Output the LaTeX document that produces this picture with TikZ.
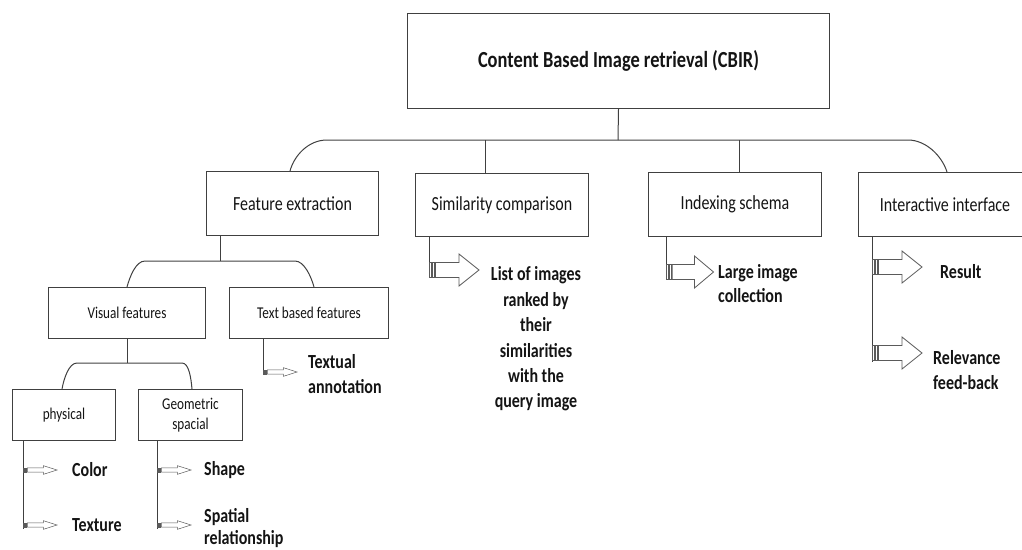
\documentclass[tikz,border=0pt]{standalone}
\usepackage{fontspec}
\setmainfont[FakeStretch=0.8]{Carlito}
\definecolor{linegray}{HTML}{404040}
\definecolor{arrowgray}{HTML}{5A5A5A}
\definecolor{inkc}{HTML}{141414}
\tikzset{
  conn/.style={draw=linegray, line width=1pt},
  boxnode/.style={draw=linegray, line width=1pt, fill=white, inner sep=0pt,
    anchor=north west, align=center, text=inkc},
  toptext/.style={font=\bfseries\fontsize{23}{28}\selectfont},
  midtext/.style={font=\fontsize{20}{24}\selectfont},
  lowtext/.style={font=\fontsize{16.5}{20}\selectfont},
  outtext/.style={font=\bfseries\fontsize{20}{24.5}\selectfont, inner sep=0pt,
    text=inkc, align=left, anchor=west},
  arrowline/.style={draw=arrowgray, fill=white, line width=0.8pt},
  % striped block arrow, origin at its tail centre
  stripearrow/.pic={
    \draw[arrowline] (0,-7.5) rectangle (2.5,7.5);
    \draw[arrowline] (3.5,-7.5) rectangle (5.5,7.5);
    \draw[arrowline] (6.5,-7.5) -- (30,-7.5) -- (30,-16) -- (50,0)
      -- (30,16) -- (30,7.5) -- (6.5,7.5) -- cycle;
  },
  smallarrow/.style={xscale=0.68, yscale=0.27,
    arrowline/.append style={line width=0.5pt}},
}
\begin{document}
\begin{tikzpicture}[x=1pt,y=-1pt]
\useasboundingbox (0,0) rectangle (1022,549);
\clip (0,0) rectangle (1022,549);

% ---- boxes ----
\node[boxnode, toptext, minimum width=422, minimum height=95] (cbir) at (407,13)
  {Content Based Image retrieval (CBIR)};
\node[boxnode, midtext, minimum width=172, minimum height=64] (fe) at (206,171)
  {Feature extraction};
\node[boxnode, midtext, minimum width=173, minimum height=63] (sim) at (415,173)
  {Similarity comparison};
\node[boxnode, midtext, minimum width=173, minimum height=64] (idx) at (648,172)
  {Indexing schema};
\node[boxnode, midtext, minimum width=173, minimum height=64] (ui) at (858,172)
  {Interactive interface};
\node[boxnode, lowtext, minimum width=157, minimum height=51] (vis) at (48,287)
  {Visual features};
\node[boxnode, lowtext, minimum width=159, minimum height=51] (txt) at (229,287)
  {Text based features};
\node[boxnode, lowtext, minimum width=103, minimum height=51] (phy) at (12,389)
  {physical};
\node[boxnode, lowtext, minimum width=104, minimum height=51] (geo) at (138,389)
  {Geometric\\spacial};

% ---- top level bus ----
\coordinate (bus) at (618,140);
\coordinate (busL) at (327,140);
\coordinate (busR) at (908,140);
\coordinate (feIn) at (290,171);
\coordinate (uiIn) at (947,172);
\coordinate (simIn) at (485,140);
\coordinate (idxIn) at (739,140);
\draw[conn] (cbir.south) -- (bus);
\draw[conn] (feIn) .. controls (294,156) and (308,140) .. (busL) -- (busR)
  .. controls (926,140) and (942,156) .. (uiIn);
\draw[conn] (simIn) -- (sim.north -| simIn);
\draw[conn] (idxIn) -- (idx.north -| idxIn);

% ---- feature extraction bus ----
\coordinate (feOut) at (220,261);
\coordinate (fbL) at (145,261);
\coordinate (fbR) at (295,261);
\coordinate (visIn) at (127,287);
\coordinate (txtIn) at (314,287);
\draw[conn] (fe.south -| feOut) -- (feOut);
\draw[conn] (visIn) .. controls (130,276) and (136,261) .. (fbL) -- (fbR)
  .. controls (304,261) and (311,276) .. (txtIn);

% ---- visual features bus ----
\coordinate (visOut) at (127,363);
\coordinate (vbL) at (77,363);
\coordinate (vbR) at (182,363);
\coordinate (phyIn) at (62,389);
\coordinate (geoIn) at (192,389);
\draw[conn] (vis.south -| visOut) -- (visOut);
\draw[conn] (phyIn) .. controls (64,378) and (69,363) .. (vbL) -- (vbR)
  .. controls (189,363) and (191,378) .. (geoIn);

% ---- arrow anchor points ----
\coordinate (aSim) at (429,270);
\coordinate (aIdx) at (666,272);
\coordinate (aUi1) at (872,267);
\coordinate (aUi2) at (872,353);
\coordinate (aUiEnd) at (872,362);
\coordinate (aTxt) at (263,372);
\coordinate (aCol) at (23,470);
\coordinate (aTex) at (23,525);
\coordinate (aTexEnd) at (23,529);
\coordinate (aSha) at (157,470);
\coordinate (aSpa) at (157,525);
\coordinate (aSpaEnd) at (157,529);

\draw[conn] (sim.south -| aSim) -- (aSim);
\draw[conn] (idx.south -| aIdx) -- (aIdx);
\draw[conn] (ui.south -| aUi1) -- (aUiEnd);
\draw[conn] (txt.south -| aTxt) -- (aTxt);
\draw[conn] (phy.south -| aCol) -- (aTexEnd);
\draw[conn] (geo.south -| aSha) -- (aSpaEnd);

\pic at (aSim) {stripearrow};
\pic[xscale=0.95] at (aIdx) {stripearrow};
\pic at (aUi1) {stripearrow};
\pic at (aUi2) {stripearrow};
\pic[smallarrow] at (aTxt) {stripearrow};
\pic[smallarrow] at (aCol) {stripearrow};
\pic[smallarrow] at (aTex) {stripearrow};
\pic[smallarrow] at (aSha) {stripearrow};
\pic[smallarrow] at (aSpa) {stripearrow};

% ---- outcome labels ----
\node[outtext, align=center, anchor=center, font=\bfseries\fontsize{20}{25.4}\selectfont]
  (simres) at (536,339)
  {List of images\\ranked by\\their\\similarities\\with the\\query image};
\node[outtext] (idxres) at (718,283.5) {Large image\\collection};
\node[outtext] (uires1) at (940,272) {Result};
\node[outtext] (uires2) at (933,370) {Relevance\\feed-back};
\node[outtext] (txtres) at (308,374) {Textual\\annotation};
\node[outtext] (color) at (72,470) {Color};
\node[outtext] (texture) at (72,525) {Texture};
\node[outtext] (shape) at (204,470) {Shape};
\node[outtext, font=\bfseries\fontsize{20}{22}\selectfont] (spatial) at (204,528)
  {Spatial\\relationship};
\end{tikzpicture}
\end{document}
